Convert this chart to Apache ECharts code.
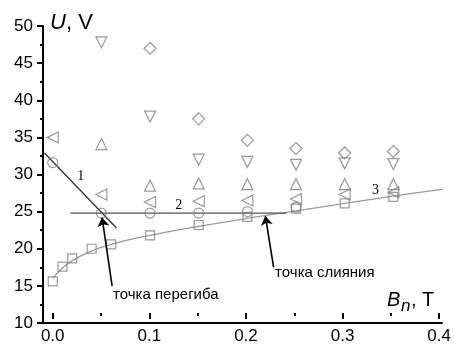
<!DOCTYPE html>
<html>
<head>
<meta charset="utf-8">
<script src="https://cdn.jsdelivr.net/npm/echarts@6/dist/echarts.min.js"></script>
<style>
  html, body { margin: 0; padding: 0; background: #fff; }
  #chart { width: 454px; height: 345px; }
</style>
</head>
<body>
<div id="chart"></div>
<script>
// measured points, [B_n (T), U (V)]
const diamondPts  = [[0.1, 47.0], [0.15, 37.5], [0.2, 34.6], [0.25, 33.5], [0.3, 32.9], [0.35, 33.1]];
const downTriPts  = [[0.05, 47.8], [0.1, 37.8], [0.15, 32.0], [0.2, 31.7], [0.25, 31.3], [0.3, 31.5], [0.35, 31.4]];
const upTriPts    = [[0.05, 34.1], [0.1, 28.5], [0.15, 28.8], [0.2, 28.7], [0.25, 28.7], [0.3, 28.7], [0.35, 28.7]];
const leftTriPts  = [[0.0, 35.0], [0.05, 27.3], [0.1, 26.3], [0.15, 26.4], [0.2, 26.5], [0.25, 26.7], [0.3, 27.3], [0.35, 27.6]];
const circlePts   = [[0.0, 31.6], [0.05, 24.8], [0.1, 24.8], [0.15, 24.8], [0.2, 25.0], [0.25, 25.6]];
const squarePts   = [[0.0, 15.6], [0.01, 17.6], [0.02, 18.7], [0.04, 20.0], [0.06, 20.6], [0.1, 21.8],
                     [0.15, 23.2], [0.2, 24.3], [0.25, 25.4], [0.3, 26.1], [0.35, 27.0]];

// fitted lines 1, 2 and curve 3
const line1Pts = [[-0.0085, 32.9], [0.0655, 22.8]];
const line2Pts = [[0.018, 24.8], [0.24, 24.8]];
const curve3Pts = [[0.0, 16.0], [0.01, 17.4], [0.02, 18.4], [0.04, 19.7], [0.06, 20.6], [0.1, 21.8],
                   [0.15, 23.0], [0.2, 24.1], [0.25, 25.1], [0.3, 26.1], [0.35, 27.1], [0.4, 28.0]];

// arrows: [tail, tip]
const arrowInflection = [[0.061, 15.0], [0.0507, 24.2]];
const arrowMerge      = [[0.227, 17.5], [0.2185, 24.4]];

// axis ranges
const xFrameMin = -0.01;
const xMax = 0.4;
const yMin = 10;
const yMax = 50;

// notes placed in data coords
const notes = [
  { text: 'точка перегиба', at: [0.062, 13.8], font: '15px "Liberation Sans"' },
  { text: 'точка слияния', at: [0.2285, 16.7], font: '15px "Liberation Sans"' },
  { text: '1', at: [0.0253, 29.7], font: '14px "Liberation Serif"' },
  { text: '2', at: [0.126, 25.9], font: '14px "Liberation Serif"' },
  { text: '3', at: [0.328, 27.9], font: '14px "Liberation Serif"' }
];

const markerGray = '#7f7f7f';

function hollow(name, data, symbol, size, rotate) {
  return {
    name: name,
    type: 'scatter',
    data: data,
    symbol: symbol,
    symbolSize: size,
    symbolRotate: rotate || 0,
    itemStyle: { color: 'transparent', borderColor: markerGray, borderWidth: 1.2 },
    z: 5
  };
}

// plot box
const gridLeft = 43, gridRight = 12, gridTop = 26, gridBottom = 22;
const plotW = 454 - gridLeft - gridRight;
const pxPerX = plotW / (xMax - xFrameMin);
const zeroLeft = gridLeft + (0 - xFrameMin) * pxPerX;

const chart = echarts.init(document.getElementById('chart'));

const option = {
  backgroundColor: '#fff',
  animation: false,
  grid: [
    { left: gridLeft, right: gridRight, top: gridTop, bottom: gridBottom },
    { left: zeroLeft, right: gridRight, top: gridTop, bottom: gridBottom }
  ],
  xAxis: [
    {
      // frame line, starts slightly left of zero
      type: 'value', gridIndex: 0,
      min: xFrameMin, max: xMax,
      axisLine: { show: true, onZero: false, lineStyle: { color: '#000', width: 2 } },
      axisTick: { show: false },
      axisLabel: { show: false },
      splitLine: { show: false }
    },
    {
      // ticks and labels from 0
      type: 'value', gridIndex: 1,
      min: 0, max: xMax, interval: 0.1,
      axisLine: { show: false, onZero: false },
      axisTick: { show: true, length: 6, lineStyle: { color: '#000', width: 2 } },
      minorTick: { show: true, splitNumber: 2, length: 3, lineStyle: { color: '#000', width: 2 } },
      axisLabel: {
        margin: 15,
        color: '#000',
        fontSize: 17,
        fontFamily: 'Liberation Sans',
        formatter: v => v.toFixed(1)
      },
      splitLine: { show: false }
    }
  ],
  yAxis: [
    {
      type: 'value', gridIndex: 0,
      min: yMin, max: yMax, interval: 5,
      axisLine: { show: true, onZero: false, lineStyle: { color: '#000', width: 2 } },
      axisTick: { show: true, length: 6, lineStyle: { color: '#000', width: 2 } },
      minorTick: { show: true, splitNumber: 2, length: 3, lineStyle: { color: '#000', width: 2 } },
      axisLabel: { margin: 10, color: '#000', fontSize: 17, fontFamily: 'Liberation Sans' },
      splitLine: { show: false }
    },
    {
      type: 'value', gridIndex: 1,
      min: yMin, max: yMax, show: false
    }
  ],
  series: [
    {
      type: 'line', data: curve3Pts, smooth: true, symbol: 'none',
      lineStyle: { color: '#9a9a9a', width: 1.3 }, z: 2
    },
    {
      type: 'line', data: line1Pts, symbol: 'none',
      lineStyle: { color: '#333', width: 1.3 }, z: 3
    },
    {
      type: 'line', data: line2Pts, symbol: 'none',
      lineStyle: { color: '#555', width: 1.3 }, z: 3
    },
    hollow('diamond', diamondPts, 'diamond', 12),
    hollow('down', downTriPts, 'triangle', 11, 180),
    hollow('up', upTriPts, 'triangle', 11),
    hollow('left', leftTriPts, 'triangle', 11, 90),
    hollow('circle', circlePts, 'circle', 10),
    hollow('square', squarePts, 'rect', 9),
    {
      type: 'lines',
      coordinateSystem: 'cartesian2d',
      symbol: ['none', 'arrow'],
      symbolSize: 9,
      lineStyle: { color: '#000', width: 1.6, opacity: 1 },
      data: [{ coords: arrowInflection }, { coords: arrowMerge }],
      z: 6
    }
  ]
};

chart.setOption(option);

// axis names and notes
const graphics = [
  { type: 'text', left: 50, top: 12,
    style: { text: 'U', font: 'italic 22px "Liberation Sans"', fill: '#000' } },
  { type: 'text', left: 66, top: 12,
    style: { text: ', V', font: '22px "Liberation Sans"', fill: '#000' } },
  { type: 'text', left: 387, top: 290,
    style: { text: 'B', font: 'italic 20px "Liberation Sans"', fill: '#000' } },
  { type: 'text', left: 401, top: 298,
    style: { text: 'n', font: 'italic 17px "Liberation Sans"', fill: '#000' } },
  { type: 'text', left: 411, top: 290,
    style: { text: ', T', font: '20px "Liberation Sans"', fill: '#000' } }
];
notes.forEach(n => {
  const p = chart.convertToPixel({ xAxisIndex: 0, yAxisIndex: 0 }, n.at);
  graphics.push({
    type: 'text', x: p[0], y: p[1],
    style: { text: n.text, font: n.font, fill: '#000', textVerticalAlign: 'middle' },
    z: 10
  });
});
chart.setOption({ graphic: graphics });
</script>
</body>
</html>
